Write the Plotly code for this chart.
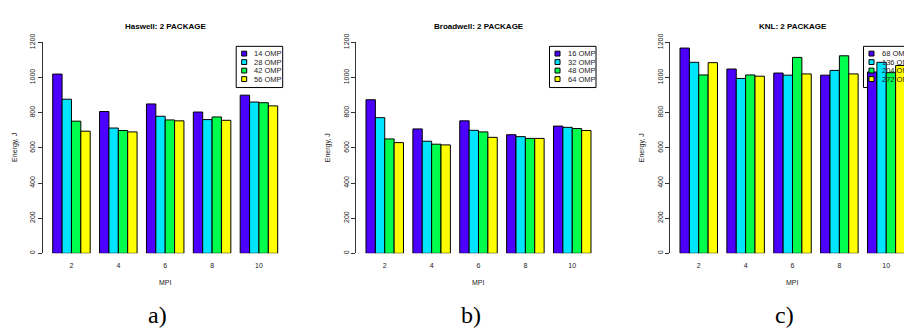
import plotly.graph_objects as go

W, H = 904, 329

mpi = ["2", "4", "6", "8", "10"]
colors = ["#4C00FF", "#00E5FF", "#00FF4D", "#FFFF00"]

haswell_labels = ["14 OMP", "28 OMP", "42 OMP", "56 OMP"]
haswell_14 = [1020, 807, 850, 804, 900]
haswell_28 = [877, 713, 780, 761, 861]
haswell_42 = [752, 699, 759, 776, 857]
haswell_56 = [695, 691, 754, 757, 839]

broadwell_labels = ["16 OMP", "32 OMP", "48 OMP", "64 OMP"]
broadwell_16 = [874, 708, 754, 675, 724]
broadwell_32 = [772, 638, 700, 664, 717]
broadwell_48 = [651, 621, 691, 654, 710]
broadwell_64 = [630, 617, 660, 654, 699]

knl_labels = ["68 OMP", "136 OMP", "204 OMP", "272 OMP"]
knl_68 = [1168, 1049, 1026, 1014, 1032]
knl_136 = [1087, 995, 1014, 1041, 1087]
knl_204 = [1015, 1015, 1115, 1124, 1028]
knl_272 = [1085, 1008, 1021, 1021, 1069]

titles = ["Haswell: 2 PACKAGE", "Broadwell: 2 PACKAGE", "KNL: 2 PACKAGE"]
sub_labels = ["a)", "b)", "c)"]
y_ticks = [0, 200, 400, 600, 800, 1000, 1200]

panels = [
    (haswell_labels, [haswell_14, haswell_28, haswell_42, haswell_56]),
    (broadwell_labels, [broadwell_16, broadwell_32, broadwell_48, broadwell_64]),
    (knl_labels, [knl_68, knl_136, knl_204, knl_272]),
]

# layout geometry (pixels)
bars_left = [52.7, 366.0, 680.0]
group_span = 225.0          # from first bar left to last bar right
unit = group_span / 4.8     # px per category
gap = 9.7
y0_px, y1200_px = 252.0, 34.5

def px(x):
    return x / W

def py(y):
    return 1 - y / H

FONT = "Liberation Sans, Arial, sans-serif"
TXT = "#222"
fig = go.Figure()
layout = dict(
    width=W, height=H, margin=dict(l=0, r=0, t=0, b=0),
    paper_bgcolor="white", plot_bgcolor="rgba(0,0,0,0)",
    barmode="group", bargap=0.2, bargroupgap=0.0,
    showlegend=False, font=dict(family=FONT, size=7, color=TXT),
)
annotations = []
shapes = []

for i, (labels, series) in enumerate(panels):
    sfx = "" if i == 0 else str(i + 1)
    bl = bars_left[i]
    br = bl + group_span
    axis_x = bl - gap
    right = min(br + gap, W)
    r0 = -0.4 - gap / unit
    r1 = r0 + (right - axis_x) / unit
    for lab, vals, col in zip(labels, series, colors):
        fig.add_trace(go.Bar(
            x=mpi, y=vals, name=lab, marker_color=col,
            marker_line_color="black", marker_line_width=1,
            xaxis="x" + sfx, yaxis="y" + sfx,
        ))
    layout["xaxis" + sfx] = dict(
        domain=[px(axis_x), px(right)], range=[r0, r1], type="category",
        anchor="y" + sfx, showline=False, showgrid=False, zeroline=False,
        ticks="", tickfont=dict(size=7, color=TXT), ticklabelstandoff=7,
    )
    layout["yaxis" + sfx] = dict(
        domain=[py(y0_px), py(y1200_px)], range=[0, 1200], anchor="x" + sfx,
        showline=True, linecolor="#333", linewidth=1, showgrid=False,
        zeroline=False, ticks="outside", ticklen=4, tickcolor="#333",
        tickvals=y_ticks, tickangle=-90, tickfont=dict(size=7, color=TXT),
    )
    cx = (bl + br) / 2
    annotations += [
        dict(text="<b>%s</b>" % titles[i], x=px(cx), y=py(18), xref="paper", yref="paper",
             showarrow=False, font=dict(size=8, color="black", family=FONT),
             xanchor="center", yanchor="middle"),
        dict(text="MPI", x=px(cx), y=py(282), xref="paper", yref="paper",
             showarrow=False, font=dict(size=7, color=TXT), xanchor="center", yanchor="middle"),
        dict(text="Energy, J", x=px(axis_x - 28), y=py((y0_px + y1200_px) / 2),
             xref="paper", yref="paper", showarrow=False, textangle=-90,
             font=dict(size=7, color=TXT), xanchor="center", yanchor="middle"),
        dict(text=sub_labels[i], x=px(cx - 8), y=py(316), xref="paper", yref="paper",
             showarrow=False, font=dict(size=24, color="black",
                                        family="Liberation Serif, DejaVu Serif, serif"),
             xanchor="center", yanchor="middle"),
    ]
    # legend box
    box_r = br + 5
    box_l = box_r - 46.5
    box_t, box_b = 38.5, 81.0
    shapes.append(dict(type="rect", xref="paper", yref="paper",
                       x0=px(box_l), x1=px(box_r), y0=py(box_b), y1=py(box_t),
                       line=dict(color="black", width=1), fillcolor="white", layer="below"))
    for k, (lab, col) in enumerate(zip(labels, colors)):
        yc = box_t + 7.5 + k * 8.75
        shapes.append(dict(type="rect", xref="paper", yref="paper",
                           x0=px(box_l + 5.5), x1=px(box_l + 10.5),
                           y0=py(yc + 2.5), y1=py(yc - 2.5),
                           line=dict(color="black", width=1), fillcolor=col, layer="above"))
        annotations.append(dict(text=lab, x=px(box_l + 16), y=py(yc), xref="paper", yref="paper",
                                showarrow=False, xanchor="left", yanchor="middle",
                                font=dict(size=7.5, color=TXT)))

layout["annotations"] = annotations
layout["shapes"] = shapes
fig.update_layout(**layout)
fig.write_html("out.html")
